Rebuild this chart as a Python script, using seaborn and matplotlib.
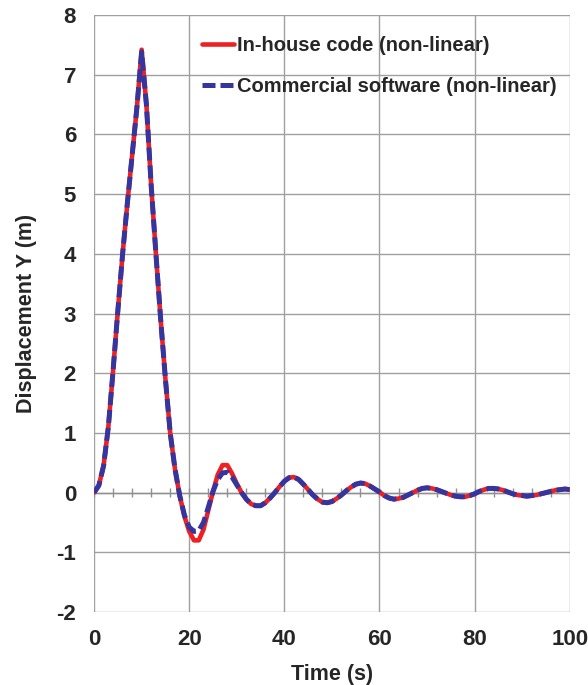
import numpy as np
import pandas as pd
import matplotlib
matplotlib.use("Agg")
import matplotlib.pyplot as plt
import seaborn as sns

# Time axis (s)
time_s = list(range(0, 101))

# In-house code response, vertical displacement (m)
inhouse_y = [
    0.00, 0.12, 0.45, 1.10, 2.05, 3.05, 4.00, 4.85, 5.65, 6.45,
    7.42, 6.50, 5.15, 4.00, 2.90, 1.90, 1.00, 0.40, -0.05, -0.40,
    -0.65, -0.80, -0.80, -0.62, -0.30, 0.02, 0.30, 0.46, 0.46, 0.32,
    0.15, 0.00, -0.11, -0.19, -0.22, -0.22, -0.17, -0.09, 0.00, 0.10,
    0.19, 0.25, 0.26, 0.22, 0.14, 0.05, -0.04, -0.11, -0.16, -0.17,
    -0.15, -0.10, -0.04, 0.03, 0.09, 0.14, 0.16, 0.15, 0.11, 0.06,
    0.01, -0.05, -0.09, -0.11, -0.10, -0.08, -0.04, 0.00, 0.04, 0.07,
    0.08, 0.07, 0.05, 0.02, -0.01, -0.04, -0.06, -0.07, -0.07, -0.05,
    -0.02, 0.02, 0.05, 0.07, 0.07, 0.06, 0.04, 0.01, -0.02, -0.04,
    -0.05, -0.06, -0.05, -0.04, -0.02, 0.00, 0.02, 0.04, 0.05, 0.06,
    0.05,
]

# Commercial software response, vertical displacement (m)
commercial_y = [
    0.00, 0.12, 0.45, 1.10, 2.05, 3.05, 4.00, 4.85, 5.65, 6.45,
    7.38, 6.50, 5.15, 4.00, 2.90, 1.90, 1.00, 0.40, -0.05, -0.38,
    -0.58, -0.65, -0.64, -0.50, -0.25, 0.02, 0.22, 0.33, 0.34, 0.26,
    0.13, 0.00, -0.11, -0.19, -0.22, -0.22, -0.17, -0.09, 0.00, 0.10,
    0.19, 0.25, 0.26, 0.22, 0.14, 0.05, -0.04, -0.11, -0.16, -0.17,
    -0.15, -0.10, -0.04, 0.03, 0.09, 0.14, 0.16, 0.15, 0.11, 0.06,
    0.01, -0.05, -0.09, -0.11, -0.10, -0.08, -0.04, 0.00, 0.04, 0.07,
    0.08, 0.07, 0.05, 0.02, -0.01, -0.04, -0.06, -0.07, -0.07, -0.05,
    -0.02, 0.02, 0.05, 0.07, 0.07, 0.06, 0.04, 0.01, -0.02, -0.04,
    -0.05, -0.06, -0.05, -0.04, -0.02, 0.00, 0.02, 0.04, 0.05, 0.06,
    0.05,
]

series_names = ["In-house code (non-linear)", "Commercial software (non-linear)"]
x_ticks = [0, 20, 40, 60, 80, 100]
y_ticks = [-2, -1, 0, 1, 2, 3, 4, 5, 6, 7, 8]

sns.set_style("white")
plt.rcParams["font.family"] = ["Liberation Sans", "DejaVu Sans"]
plt.rcParams["font.weight"] = "bold"
plt.rcParams["axes.unicode_minus"] = False

df_a = pd.DataFrame({"t": time_s, "y": inhouse_y})
df_b = pd.DataFrame({"t": time_s, "y": commercial_y})

fig = plt.figure(figsize=(5.88, 6.85), dpi=100)
ax = fig.add_axes([0.16, 0.1066, 0.809, 0.8714])

grid_c = "#a0a0a0"
for v in x_ticks:
    ax.axvline(v, color=grid_c, lw=1.0, zorder=0)
for v in y_ticks:
    ax.axhline(v, color=grid_c, lw=1.0, zorder=0)

# zero line with crossing minor ticks
ax.axhline(0, color="#909090", lw=1.0, zorder=1)
minor_t = np.arange(0, 101, 4)
ax.vlines(minor_t, -0.075, 0.075, color="#909090", lw=1.0, zorder=1)

sns.lineplot(data=df_a, x="t", y="y", ax=ax, color="#ee2020", lw=3.3,
             label=series_names[0], zorder=3)
sns.lineplot(data=df_b, x="t", y="y", ax=ax, color="#3535a0", lw=3.6,
             label=series_names[1], zorder=4)
ax.lines[-1].set_dashes([2.6, 1.0])

ax.set_xlim(0, 100)
ax.set_ylim(-2, 8)
ax.set_xticks(x_ticks)
ax.set_yticks(y_ticks)
for s in ax.spines.values():
    s.set_visible(False)
ax.tick_params(axis="y", length=6, color=grid_c, width=1.0, direction="out",
               labelsize=16, pad=7)
ax.tick_params(axis="x", length=0, labelsize=16, pad=12)
for lab in ax.get_xticklabels() + ax.get_yticklabels():
    lab.set_fontweight("bold")

ax.set_xlabel("Time (s)", fontsize=15.5, fontweight="bold", labelpad=10)
ax.set_ylabel("Displacement Y (m)", fontsize=15.5, fontweight="bold", labelpad=14)

leg = ax.legend(loc="upper left", frameon=False, fontsize=14.5,
                handlelength=1.6, handletextpad=0.15, labelspacing=1.1,
                borderaxespad=0.0, bbox_to_anchor=(0.21, 0.978))
for t in leg.get_texts():
    t.set_fontweight("bold")

fig.savefig("out.png", dpi=100)
